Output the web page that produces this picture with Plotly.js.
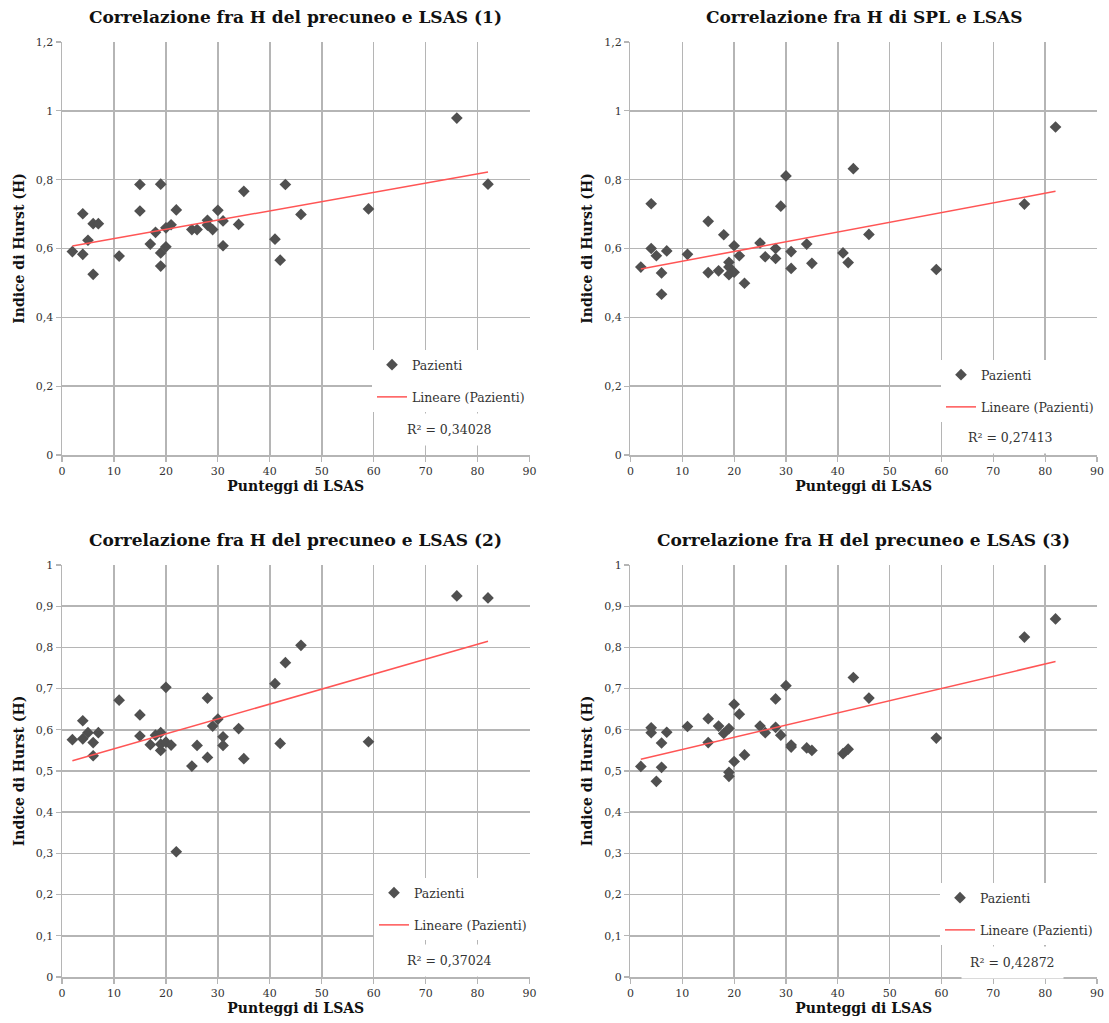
<!DOCTYPE html>
<html>
<head>
<meta charset="utf-8">
<script src="https://cdn.plot.ly/plotly-3.0.1.min.js"></script>
<style>html,body{margin:0;padding:0;background:#fff}#chart{width:1109px;height:1023px}</style>
</head>
<body>
<div id="chart"></div>
<script>
// LSAS scores (same patients in every panel)
const lsasScores = [2,4,4,5,6,6,7,11,15,15,17,18,19,19,19,20,20,21,22,25,26,28,28,29,30,31,31,34,35,41,42,43,46,59,76,82];

// Hurst index values per panel
const hPrecuneo1 = [0.591,0.701,0.583,0.624,0.672,0.525,0.672,0.578,0.786,0.709,0.613,0.647,0.787,0.587,0.549,0.605,0.660,0.669,0.712,0.655,0.655,0.682,0.668,0.655,0.711,0.680,0.608,0.670,0.766,0.627,0.566,0.786,0.699,0.715,0.979,0.787];
const hSPL = [0.546,0.730,0.600,0.579,0.529,0.467,0.593,0.583,0.679,0.530,0.535,0.640,0.560,0.546,0.524,0.608,0.531,0.579,0.499,0.616,0.576,0.600,0.571,0.723,0.811,0.591,0.542,0.613,0.557,0.587,0.559,0.832,0.641,0.539,0.729,0.953];
const hPrecuneo2 = [0.576,0.622,0.578,0.593,0.569,0.537,0.593,0.672,0.636,0.585,0.564,0.587,0.593,0.550,0.565,0.703,0.570,0.563,0.304,0.512,0.562,0.677,0.533,0.609,0.626,0.583,0.562,0.603,0.530,0.712,0.567,0.763,0.805,0.571,0.925,0.920];
const hPrecuneo3 = [0.511,0.605,0.593,0.475,0.568,0.509,0.594,0.608,0.627,0.569,0.609,0.591,0.603,0.497,0.487,0.662,0.523,0.638,0.539,0.609,0.593,0.675,0.606,0.587,0.707,0.563,0.558,0.556,0.550,0.542,0.553,0.727,0.677,0.580,0.825,0.869];

const panelTitles = ["Correlazione fra H del precuneo e LSAS (1)","Correlazione fra H di SPL e LSAS","Correlazione fra H del precuneo e LSAS (2)","Correlazione fra H del precuneo e LSAS (3)"];
const r2Labels = ["R² = 0,34028","R² = 0,27413","R² = 0,37024","R² = 0,42872"];
const seriesName = "Pazienti";
const trendName = "Lineare (Pazienti)";
const xTitle = "Punteggi di LSAS";
const yTitle = "Indice di Hurst (H)";

const panels = [hPrecuneo1, hSPL, hPrecuneo2, hPrecuneo3];

// ---- layout geometry (pixels) ----
const W = 1109, H = 1023;
const M = {l:62, r:11, t:42, b:46};
const IW = W - M.l - M.r, IH = H - M.t - M.b;
const px = x => (x - M.l) / IW;
const py = y => (H - M.b - y) / IH;

const FONT = "DejaVu Serif, Liberation Serif, serif";
const GRID = "#b5b5b5";

function linfit(xs, ys) {
  const n = xs.length;
  let sx=0, sy=0, sxx=0, sxy=0;
  for (let i=0;i<n;i++){ sx+=xs[i]; sy+=ys[i]; sxx+=xs[i]*xs[i]; sxy+=xs[i]*ys[i]; }
  const b = (n*sxy - sx*sy) / (n*sxx - sx*sx);
  const a = (sy - b*sx) / n;
  return {a, b};
}

const xDom = [[px(62), px(530)], [px(631), px(1098)]];
const yDom = [[py(455), py(42)], [py(977), py(565)]];
const legendPos = [[372, 350], [941, 360], [374, 878], [940, 883]];
const r2Pos = [[398, 430], [960, 437], [398, 960], [962, 962]];
const titleY = [17, 540];

const data = [];
const layout = {
  width: W, height: H,
  margin: M,
  paper_bgcolor: "#fff", plot_bgcolor: "#fff",
  separators: ", ",
  font: {family: FONT, color: "#222", size: 11},
  annotations: [],
  showlegend: true
};

panels.forEach((vals, i) => {
  const k = i + 1;
  const xa = "x" + (k === 1 ? "" : k), ya = "y" + (k === 1 ? "" : k);
  const legName = "legend" + (k === 1 ? "" : k);
  const fit = linfit(lsasScores, vals);
  const xmin = Math.min(...lsasScores), xmax = Math.max(...lsasScores);
  data.push({
    type: "scatter", mode: "markers", x: lsasScores, y: vals,
    xaxis: xa, yaxis: ya, name: seriesName, legend: legName, legendgroup: "p"+k,
    marker: {symbol: "diamond", size: 9, color: "#505050"},
    cliponaxis: false
  });
  data.push({
    type: "scatter", mode: "lines", x: [xmin, xmax], y: [fit.a + fit.b*xmin, fit.a + fit.b*xmax],
    xaxis: xa, yaxis: ya, name: trendName, legend: legName, legendgroup: "t"+k,
    line: {color: "#ff5555", width: 1.5}
  });
  const col = i % 2, row = Math.floor(i / 2);
  const ymax = row === 0 ? 1.2 : 1.0;
  const dy = row === 0 ? 0.2 : 0.1;
  layout["xaxis" + (k === 1 ? "" : k)] = {
    domain: xDom[col], anchor: ya, range: [0, 90], dtick: 10, tick0: 0,
    showgrid: true, gridcolor: GRID, gridwidth: 1.5,
    showline: true, linecolor: GRID, linewidth: 1.5,
    ticks: "outside", ticklen: 5, tickcolor: GRID, tickwidth: 1.2,
    zeroline: false, fixedrange: true,
    tickfont: {family: FONT, size: 11, color: "#333"},
    title: {text: xTitle, font: {family: FONT, size: 14, color: "#111", weight: "bold"}, standoff: 4}
  };
  layout["yaxis" + (k === 1 ? "" : k)] = {
    domain: yDom[row], anchor: xa, range: [0, ymax], dtick: dy, tick0: 0,
    showgrid: true, gridcolor: GRID, gridwidth: 1.5,
    showline: true, linecolor: GRID, linewidth: 1.5,
    ticks: "outside", ticklen: 5, tickcolor: GRID, tickwidth: 1.2,
    zeroline: false, fixedrange: true,
    tickfont: {family: FONT, size: 11, color: "#333"},
    title: {text: yTitle, font: {family: FONT, size: 14, color: "#111", weight: "bold"}, standoff: 8}
  };
  layout[legName] = {
    x: px(legendPos[i][0]), y: py(legendPos[i][1]), xanchor: "left", yanchor: "top",
    bgcolor: "#fff", borderwidth: 0, tracegroupgap: 13, itemwidth: 30,
    font: {family: FONT, size: 12.5, color: "#333"}
  };
  layout.annotations.push({
    xref: "paper", yref: "paper", x: px(r2Pos[i][0]), y: py(r2Pos[i][1]),
    xanchor: "left", yanchor: "middle", showarrow: false,
    text: r2Labels[i], bgcolor: "#fff", borderpad: 8,
    font: {family: FONT, size: 12.5, color: "#333"}
  });
  layout.annotations.push({
    xref: "paper", yref: "paper",
    x: (xDom[col][0] + xDom[col][1]) / 2, y: py(titleY[row]),
    xanchor: "center", yanchor: "middle", showarrow: false,
    text: "<b>" + panelTitles[i] + "</b>",
    font: {family: FONT, size: 17, color: "#111"}
  });
});

Plotly.newPlot("chart", data, layout, {displayModeBar: false, staticPlot: true});
</script>
</body>
</html>
